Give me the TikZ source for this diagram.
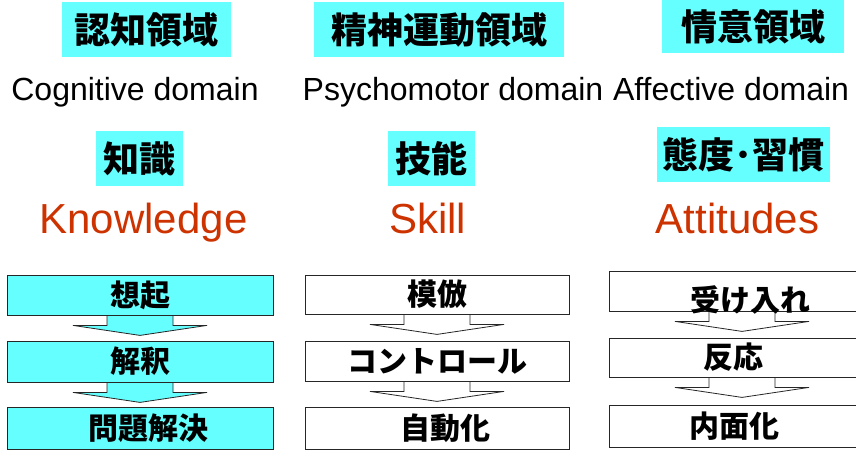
\documentclass[tikz,border=0pt]{standalone}
\usepackage{fontspec}
\setmainfont{Liberation Sans}
\newfontfamily\jpfont{Noto Sans CJK JP}
\usetikzlibrary{calc}
\pgfdeclarelayer{bg}
\pgfdeclarelayer{paper}
\pgfsetlayers{paper,bg,main}
\definecolor{cy}{HTML}{66FFFF}
\definecolor{kred}{HTML}{CC3300}
\newcommand{\blockarrow}[2]{%
  \draw[barrow, fill=#2] ($(#1.south)+(-33,-3)$) -- ($(#1.south)+(-33,10)$) -- ($(#1.south)+(-67,10)$) -- ($(#1.south)+(0,20)$) -- ($(#1.south)+(67,10)$) -- ($(#1.south)+(33,10)$) -- ($(#1.south)+(33,-3)$) -- cycle;}
\begin{document}
\begin{tikzpicture}[x=1pt,y=-1pt,
  hdr/.style={fill=cy, inner sep=0pt, minimum height=55pt, font=\jpfont\bfseries\fontsize{36}{40}\selectfont},
  en/.style={anchor=base, inner sep=0pt, font=\fontsize{32}{36}\selectfont},
  attr/.style={anchor=base, inner sep=0pt, text=kred, font=\fontsize{42}{48}\selectfont},
  stage/.style={draw=black!85, line width=0.8pt, inner sep=0pt, font=\jpfont\bfseries\fontsize{30}{34}\selectfont},
  barrow/.style={draw=black!85, line width=0.8pt, line join=miter}
]
\begin{pgfonlayer}{paper}
\fill[white] (0,0) rectangle (856,450);
\end{pgfonlayer}
\useasboundingbox (0,0) rectangle (856,450);

% domain headers
\node[hdr, minimum width=169pt] (h1) at (146.5,29.5) {認知領域};
\node[hdr, minimum width=250pt] (h2) at (439,29.5) {精神運動領域};
\node[hdr, minimum width=182pt, minimum height=53pt] (h3) at (753,26.5) {情意領域};

\node[en] (e1) at (135,100) {Cognitive domain};
\node[en] (e2) at (453,100) {Psychomotor domain};
\node[en] (e3) at (731,100) {Affective domain};

% sub headers
\node[hdr, minimum width=87pt] (s1) at (139.5,158.5) {知識};
\node[hdr, minimum width=87pt] (s2) at (431.5,158.5) {技能};
\node[hdr, minimum width=173pt] (s3) at (743.5,154.5) {態度･習慣};

\node[attr] (k1) at (143.5,233) {Knowledge};
\node[attr] (k2) at (427.5,233) {Skill};
\node[attr] (k3) at (737.5,233) {Attitudes};

% stage boxes
\node[stage, fill=cy, minimum width=266pt, minimum height=40pt] (a1) at (140,295) {想起};
\node[stage, fill=cy, minimum width=266pt, minimum height=41pt] (a2) at (140,361.5) {解釈};
\node[stage, fill=cy, minimum width=266pt, minimum height=42pt] (a3) at (140,428) {\hspace*{16pt}問題解決};

\node[stage, fill=white, minimum width=264pt, minimum height=39pt] (b1) at (437,294.5) {模倣};
\node[stage, fill=white, minimum width=264pt, minimum height=40pt] (b2) at (437,361) {コントロール};
\node[stage, fill=white, minimum width=264pt, minimum height=42pt] (b3) at (437,428) {\hspace*{16pt}自動化};

\node[stage, fill=white, minimum width=266pt, minimum height=40pt, text height=40pt, text depth=0pt] (c1) at (742,291) {\hspace*{16pt}受け入れ};
\node[stage, fill=white, minimum width=266pt, minimum height=39pt] (c2) at (742,357.5) {反応\hspace*{18pt}};
\node[stage, fill=white, minimum width=266pt, minimum height=42pt] (c3) at (742,426) {内面化\hspace*{16pt}};

\begin{pgfonlayer}{bg}
\blockarrow{a1}{cy}
\blockarrow{a2}{cy}
\blockarrow{b1}{white}
\blockarrow{b2}{white}
\blockarrow{c1}{white}
\blockarrow{c2}{white}
\end{pgfonlayer}
\end{tikzpicture}
\end{document}
